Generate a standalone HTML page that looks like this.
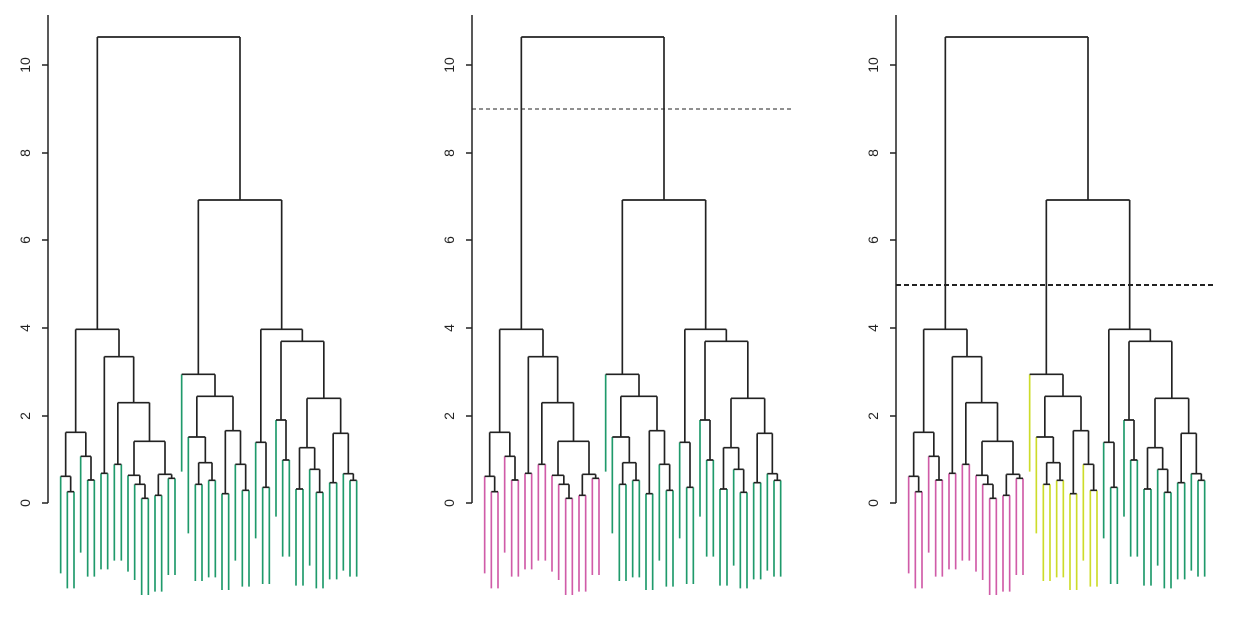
<!DOCTYPE html>
<html><head><meta charset="utf-8"><style>html,body{margin:0;padding:0;background:#fff}svg{display:block}text{font-family:"Liberation Sans",sans-serif;font-size:14px;fill:#222}</style></head>
<body>
<svg width="1242" height="619" viewBox="0 0 1242 619" xmlns="http://www.w3.org/2000/svg">
<defs>
<path id="tree" fill="none" stroke="#222" stroke-width="5" d="
M82 515H102M92 515V469 M62 469H92M77 469V337 M143 480H163M153 480V409 M122 409H153M137.5 409V337 M77 337H137.5M107 337V28
M183 460H203M193 460V110 M223 433H244M233.5 433V248 M305 535H325M315 535V493 M284 493H315M299.5 493V466 M264 466H299.5M282 466V364
M345 526H365M355 526V463 M385 475H405M395 475V463 M355 463H395M375 463V364 M282 364H375M328.5 364V248 M233.5 248H328.5M281 248V110
M193 110H281M237 110V28 M107 28H237M172 28V-849
M466 493H486M476 493V428 M506 481H526M516 481V428 M476 428H516M496 428V351 M445 351H496M470.5 351V229
M546 521H566M556 521V332 M607 511H627M617 511V433 M586 433H617M601.5 433V332 M556 332H601.5M579 332V229
M470.5 229H579M525 229V163 M425 163H525M475 163V-360
M668 502H688M678 502V367 M647 367H678M662.5 367V28 M728 420H748M738 420V300 M708 300H738M723 300V64
M768 507H789M778.5 507V383 M829 517H849M839 517V448 M809 448H839M824 448V383 M778.5 383H824M801 383V235
M869 488H890M879.5 488V340 M930 481H950M940 481V461 M910 461H940M925 461V340 M879.5 340H925M902 340V235
M801 235H902M851.5 235V64 M723 64H851.5M787 64V28 M662.5 28H787M725 28V-360
M475 -360H725M600 -360V-849 M172 -849H600"/>
<path id="l1" fill="none" stroke-width="5" d="M62 469V760M82 515V805M102 515V805M122 409V698M143 480V770M163 480V770M183 460V748M203 460V748M223 433V722M244 433V722M264 466V755M284 493V780M305 535V825M325 535V825M345 526V815M365 526V815M385 475V765M405 475V765"/>
<path id="l2" fill="none" stroke-width="5" d="M425 163V455M445 351V640M466 493V783M486 493V783M506 481V772M526 481V772M546 521V810M566 521V810M586 433V722M607 511V800M627 511V800"/>
<path id="l3" fill="none" stroke-width="5" d="M647 367V655M668 502V792M688 502V792M708 300V590M728 420V710M748 420V710M768 507V797M789 507V797M809 448V737M829 517V805M849 517V805M869 488V778M890 488V778M910 461V752M930 481V770M950 481V770"/>
<g id="axis" stroke="#222" stroke-width="1.5" fill="none">
<path d="M48 15V503M42 503H48M42 416H48M42 328H48M42 240H48M42 153H48M42 65H48"/>
</g>
<g id="lab">
<text transform="translate(30,503) rotate(-90)" text-anchor="middle">0</text>
<text transform="translate(30,416) rotate(-90)" text-anchor="middle">2</text>
<text transform="translate(30,328) rotate(-90)" text-anchor="middle">4</text>
<text transform="translate(30,240) rotate(-90)" text-anchor="middle">6</text>
<text transform="translate(30,153) rotate(-90)" text-anchor="middle">8</text>
<text transform="translate(30,65) rotate(-90)" text-anchor="middle">10</text>
</g>
</defs>

<g transform="matrix(0.33333,0,0,0.33333,40,320)">
<use href="#l1" stroke="#1f9a6b"/><use href="#l2" stroke="#1f9a6b"/><use href="#l3" stroke="#1f9a6b"/><use href="#tree"/>
</g>
<use href="#axis"/><use href="#lab"/>

<g transform="matrix(0.33333,0,0,0.33333,464,320)">
<use href="#l1" stroke="#d05ca8"/><use href="#l2" stroke="#1f9a6b"/><use href="#l3" stroke="#1f9a6b"/><use href="#tree"/>
</g>
<g transform="translate(424,0)"><use href="#axis"/><use href="#lab"/></g>
<path d="M472 109H792" stroke="#222" stroke-width="1" stroke-dasharray="4,3"/>

<g transform="matrix(0.33333,0,0,0.33333,888,320)">
<use href="#l1" stroke="#d05ca8"/><use href="#l2" stroke="#cddc2a"/><use href="#l3" stroke="#1f9a6b"/><use href="#tree"/>
</g>
<g transform="translate(848,0)"><use href="#axis"/><use href="#lab"/></g>
<path d="M896 285H1216" stroke="#222" stroke-width="2" stroke-dasharray="5,3"/>
</svg>
</body></html>
